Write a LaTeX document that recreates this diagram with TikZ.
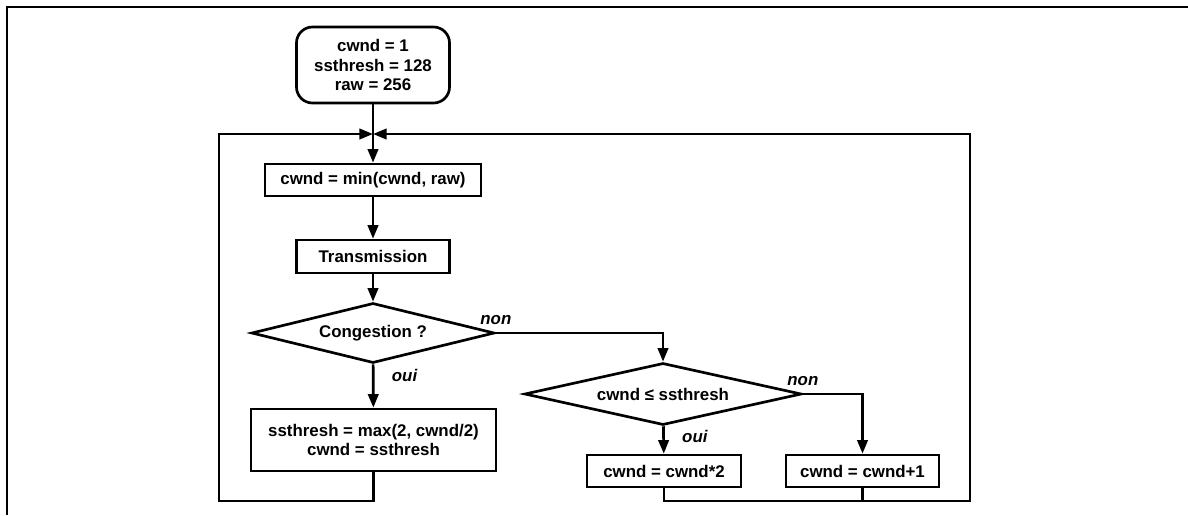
\documentclass[tikz,border=0pt]{standalone}
\usepackage{fontspec}
\setmainfont{Liberation Sans}
\usetikzlibrary{arrows.meta, positioning, calc, shapes.geometric}
\tikzset{
    flowfont/.style={font=\fontsize{12}{14}\selectfont\bfseries},
    flowstart/.style={rectangle, rounded corners=4mm, draw, line width=1.9pt, minimum width=3.825cm, minimum height=1.9cm, align=center, flowfont},
    flowbox/.style={rectangle, draw, line width=1.9pt, minimum height=0.8cm, inner sep=0pt, align=center, flowfont},
    flowtest/.style={diamond, draw, line width=1.9pt, inner sep=0pt, aspect=4, flowfont},
    flowarrow/.style={-{Triangle[length=3.4mm,width=2.6mm]}, line width=1.9pt},
    flowline/.style={line width=1.9pt},
    flowlabel/.style={font=\fontsize{12}{14}\selectfont\bfseries\itshape}
}
\begin{document}
\begin{tikzpicture}[x=0.025cm, y=-0.025cm]
    \useasboundingbox (0,0) rectangle (1188,515);
    \draw[line width=1.5pt] (7,515) -- (7,7) -- (1188,7);

    \node[flowstart] (init) at (373,65) {cwnd = 1\\ssthresh = 128\\raw = 256};
    \node[flowbox, minimum width=5.4cm] (minw) at (373,180) {cwnd = min(cwnd, raw)};
    \node[flowbox, minimum width=3.825cm, minimum height=0.82cm] (send) at (373,256.5) {Transmission};
    \node[flowtest, minimum width=6.075cm, minimum height=1.5cm] (cong) at (373,333) {Congestion ?};
    \node[flowbox, minimum width=6.125cm, minimum height=1.55cm] (cut) at (373.5,440) {ssthresh = max(2, cwnd/2)\\cwnd = ssthresh};
    \node[flowtest, minimum width=6.925cm, minimum height=1.55cm] (cmp) at (663,394) {cwnd ≤ ssthresh};
    \node[flowbox, minimum width=3.85cm] (dbl) at (664,471) {cwnd = cwnd*2};
    \node[flowbox, minimum width=3.825cm] (inc) at (862.5,471) {cwnd = cwnd+1};

    \coordinate (join) at (373,134);
    \coordinate (lt) at (219,134);
    \coordinate (lb) at (219,501);
    \coordinate (rt) at (970,134);
    \coordinate (rb) at (970,501);

    % Main sequence
    \draw[flowarrow] (init) -- (minw);
    \draw[flowarrow] (minw) -- (send);
    \draw[flowarrow] (send) -- (cong);
    \draw[flowarrow] (cong) -- node[flowlabel, right=9pt, pos=0.26] {oui} (cut);
    \draw[flowarrow] (cong.east) node[flowlabel, above=2pt] {non} -| (cmp.north);
    \draw[flowarrow] (cmp) -- node[flowlabel, right=9pt, pos=0.37] {oui} (dbl);
    \draw[flowarrow] (cmp.east) node[flowlabel, above=2pt] {non} -| (inc.north);

    % Return loops
    \draw[flowarrow] (cut.south) |- (lb) -- (lt) -- (join);
    \draw[flowline] (inc.south) -- (inc.south |- rb);
    \draw[flowarrow] (dbl.south) |- (rb) -- (rt) -- (join);
\end{tikzpicture}
\end{document}
